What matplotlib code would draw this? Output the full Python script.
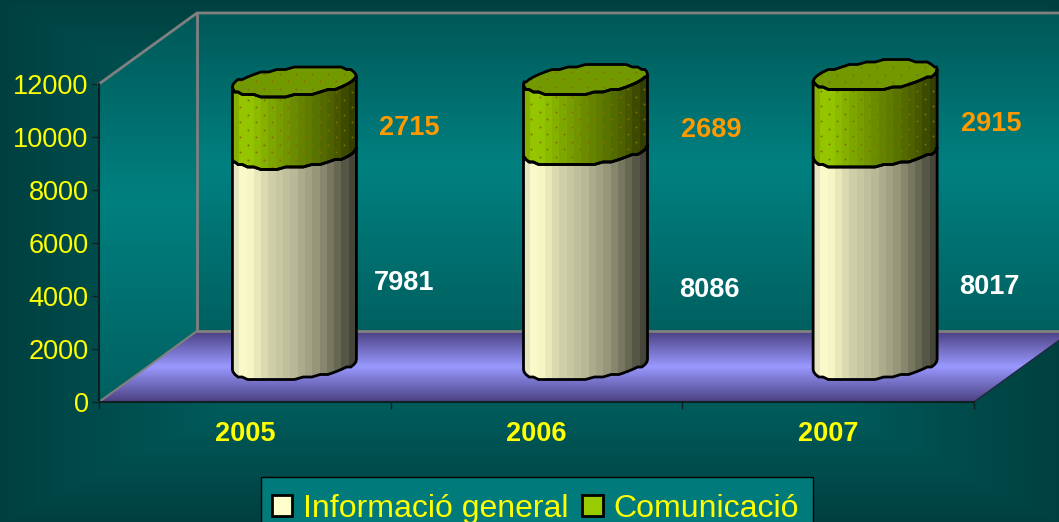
import numpy as np
import matplotlib
matplotlib.use("Agg")
import matplotlib.pyplot as plt
from matplotlib.patches import Polygon, Patch, Rectangle

years = ["2005", "2006", "2007"]
informacio = [7981, 8086, 8017]
comunicacio = [2715, 2689, 2915]
y_ticks = [0, 2000, 4000, 6000, 8000, 10000, 12000]
series_names = ["Informació general", "Comunicació"]

W, H = 1059, 522
LEFT, RIGHT, TOP, BOTTOM = 99, 974, 84, 402  # front plane of the chart, pixels
PX_X = 3 / (RIGHT - LEFT)  # category units per pixel
PX_Y = 12000 / (BOTTOM - TOP)  # value units per pixel
DEPTH_X = 98 * PX_X
DEPTH_Y = 71 * PX_Y
BAR_POS = [0.67, 1.668, 2.661]
BAR_A = 62 * PX_X
BAR_B = 14 * PX_Y
BAR_TILT = 5.5 * PX_Y
BAR_BASE = 37 * PX_Y
YELLOW = "#ffff00"

CREAM = [(0, "#e6e6c0"), (.08, "#ffffcc"), (.3, "#d0d0aa"), (.5, "#b8b896"),
         (.7, "#94947a"), (.85, "#6e6e58"), (1, "#45453a")]
GREEN = [(0, "#88b000"), (.08, "#99cc00"), (.3, "#80a800"), (.5, "#6b8c00"),
         (.7, "#587200"), (.85, "#4a5c00"), (1, "#333f00")]


def ramp(stops, pos):
    # colours along pos from (position, hex) stops
    xs = [s[0] for s in stops]
    rgb = np.array([matplotlib.colors.to_rgb(s[1]) for s in stops])
    return np.stack([np.interp(pos, xs, rgb[:, i]) for i in range(3)], axis=-1)


def clip_to(artist, poly):
    artist.set_clip_path(poly)
    artist.set_clip_box(fig.bbox)


def gradient(stops, x0, x1, y0, y1, poly):
    ax.add_patch(poly)
    poly.set_visible(False)
    col = ramp(stops, np.linspace(0, 1, 200))[:, None, :]
    im = ax.imshow(col, extent=[x0, x1, y0, y1], origin="lower", aspect="auto",
                   interpolation="bilinear", zorder=1)
    clip_to(im, poly)


def rim(cx, cy, t):
    x = cx + BAR_A * np.cos(t)
    y = cy + BAR_B * np.sin(t) + BAR_TILT * np.cos(t)
    q = 2.5 * PX_Y  # source picture has a stepped, wobbly outline
    return x, np.round(y / q) * q


def cylinder_part(cx, y0, y1, stops):
    low = np.linspace(np.pi, 2 * np.pi, 23)
    xa, ya = rim(cx, y0, low)
    xb, yb = rim(cx, y1, low[::-1])
    poly = Polygon(np.r_[np.c_[xa, ya], np.c_[xb, yb]], closed=True,
                   transform=ax.transData, visible=False)
    ax.add_patch(poly)
    bands = ramp(stops, np.linspace(0, 1, 17))[None, :, :]
    im = ax.imshow(bands, extent=[cx - BAR_A, cx + BAR_A, y0 - 2000, y1 + 2000],
                   origin="lower", aspect="auto", interpolation="nearest", zorder=3)
    clip_to(im, poly)
    return poly, np.r_[np.c_[xa, ya], np.c_[xb, yb]]


def dots(cx, y0, y1, poly, z=4):
    ys = np.arange(y0 - 800, y1 + 800, 7.5 * PX_Y)
    px, py = [], []
    for k, yy in enumerate(ys):
        xs = np.arange(cx - BAR_A, cx + BAR_A, 16 * PX_X) + (k % 2) * 8 * PX_X
        px += list(xs)
        py += [yy] * len(xs)
    sc = ax.scatter(px, py, s=2, color="#807000", linewidths=0, zorder=z)
    clip_to(sc, poly)


plt.rcParams["font.family"] = ["Liberation Sans", "DejaVu Sans"]
fig = plt.figure(figsize=(W / 100, H / 100), dpi=100)

bg = fig.add_axes([0, 0, 1, 1], zorder=0)
u, v = np.meshgrid(np.linspace(-1, 1, W), np.linspace(-1, 1, H))
d = np.maximum(np.abs(u), np.abs(v))
g = 0.5 - 0.25 * d
bg.imshow(np.dstack([np.zeros_like(g), g, g]), aspect="auto")
bg.axis("off")

ax = fig.add_axes([LEFT / W, (H - BOTTOM) / H, (RIGHT - LEFT) / W, (BOTTOM - TOP) / H], zorder=1)
ax.patch.set_visible(False)

WALL = [(0, "#006060"), (.52, "#008080"), (1, "#005858")]
FLOOR = [(0, "#4a4080"), (.5, "#9999ff"), (1, "#4a4080")]
right_end = 3 + DEPTH_X
top_end = 12000 + DEPTH_Y

gradient(WALL, DEPTH_X, right_end, DEPTH_Y, top_end,
         Polygon([(DEPTH_X, DEPTH_Y), (right_end, DEPTH_Y), (right_end, top_end), (DEPTH_X, top_end)],
                 transform=ax.transData))
gradient(WALL, 0, DEPTH_X, 0, top_end,
         Polygon([(0, 0), (DEPTH_X, DEPTH_Y), (DEPTH_X, top_end), (0, 12000)],
                 transform=ax.transData))
gradient(FLOOR, 0, right_end, 0, DEPTH_Y,
         Polygon([(0, 0), (3, 0), (right_end, DEPTH_Y), (DEPTH_X, DEPTH_Y)],
                 transform=ax.transData))

grey = dict(color="#808080", lw=2, clip_on=False, zorder=2)
ax.plot([0, DEPTH_X, right_end], [12000, top_end, top_end], **grey)
ax.plot([DEPTH_X, DEPTH_X, right_end], [top_end, DEPTH_Y, DEPTH_Y], **grey)
ax.plot([0, DEPTH_X], [0, DEPTH_Y], color="#808080", lw=1.5, clip_on=False, zorder=2)
ax.plot([3, right_end], [0, DEPTH_Y], color="#202840", lw=1, clip_on=False, zorder=2)

all_t = np.linspace(0, 2 * np.pi, 45)
for cx, a, b in zip(BAR_POS, informacio, comunicacio):
    y1 = BAR_BASE + a
    y2 = y1 + b
    _, out1 = cylinder_part(cx, BAR_BASE, y1, CREAM)
    poly2, out2 = cylinder_part(cx, y1, y2, GREEN)
    dots(cx, y1, y2, poly2)

    xt, yt = rim(cx, y2, all_t)
    face = Polygon(np.c_[xt, yt], closed=True, facecolor="#739900", edgecolor="none",
                   clip_on=False, zorder=5)
    ax.add_patch(face)
    dots(cx, y2 - 600, y2 + 600, face, z=5.5)
    ax.add_patch(Polygon(np.c_[xt, yt], closed=True, fill=False, edgecolor="black",
                         lw=2, clip_on=False, zorder=6))

    ax.add_patch(Polygon(out1, closed=True, fill=False, edgecolor="black", lw=2, clip_on=False, zorder=6))
    ax.add_patch(Polygon(out2, closed=True, fill=False, edgecolor="black", lw=2, clip_on=False, zorder=6))

# value labels, centres in pixels
label_px = [(409, 128), (711, 130), (991, 124), (404, 283), (709, 290), (989, 287)]
label_val = comunicacio + informacio
label_col = ["#ff9900"] * 3 + ["white"] * 3
for (lx, ly), val, col in zip(label_px, label_val, label_col):
    ax.text((lx - LEFT) * PX_X, (BOTTOM - ly) * PX_Y, str(val), color=col, fontsize=19.5,
            fontweight="bold", ha="center", va="center", zorder=7)

ax.set_xlim(0, 3)
ax.set_ylim(0, 12000)
ax.set_yticks(y_ticks)
ax.set_xticks([0, 1, 2, 3], [])
ax.set_xticks([0.5, 1.5, 2.5], years, minor=True)
ax.tick_params(axis="y", colors=YELLOW, labelsize=19.5, length=5, width=1, color="#102020", pad=2.5)
ax.tick_params(axis="x", which="major", length=5, width=1, color="#102020")
ax.tick_params(axis="x", which="minor", length=0, pad=14, labelsize=19.5, labelcolor=YELLOW)
for lab in ax.get_xticklabels(minor=True):
    lab.set_fontweight("bold")
for side in ["top", "right"]:
    ax.spines[side].set_visible(False)
for side in ["left", "bottom"]:
    ax.spines[side].set_color("#102020")
    ax.spines[side].set_zorder(8)
    ax.spines[side].set_linewidth(1.5)

# legend box runs off the bottom of the picture, so it is drawn apart from the legend
fig.add_artist(Rectangle((261 / W, -10 / H), (813 - 261) / W, (H - 477 + 10) / H, transform=fig.transFigure,
                         facecolor="#007a7a", edgecolor="black", lw=1, zorder=8))
handles = [Patch(facecolor="#ffffcc", edgecolor="black", lw=2),
           Patch(facecolor="#99cc00", edgecolor="black", lw=2)]
leg = fig.legend(handles, series_names, ncols=2, loc="upper left", bbox_to_anchor=(272 / W, 1 - 494 / H),
                 borderaxespad=0, frameon=False, labelcolor=YELLOW, fontsize=23,
                 handlelength=0.64, handleheight=0.64, handletextpad=0.34, columnspacing=0.42, borderpad=0)
leg.set_zorder(9)

fig.savefig("out.png", dpi=100)
